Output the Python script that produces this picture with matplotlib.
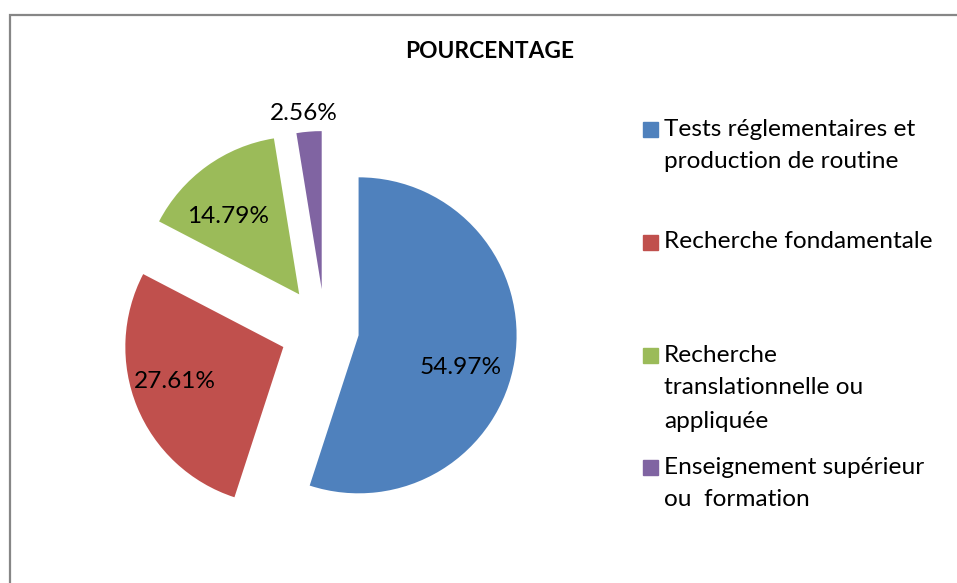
import matplotlib.pyplot as plt
from matplotlib.patches import Rectangle
import numpy as np

plt.rcParams['font.family'] = ['Lato', 'DejaVu Sans']

# data
labels = ["Tests réglementaires et\nproduction de routine",
          "Recherche fondamentale",
          "Recherche\ntranslationnelle ou\nappliquée",
          "Enseignement supérieur\nou  formation"]
values = [54.97, 27.61, 14.79, 2.56]
colors = ['#4F81BD', '#C0504D', '#9BBB59', '#8064A2']
explode = [34, 45, 44, 41]          # offsets in pixels
legend_y = [129, 242, 355, 467]     # top line of each legend entry, pixels from top
# label placement per slice: (distance as fraction of radius, angle in degrees)
label_pos = [(0.68, -17.4), (0.72, -162.5), (0.67, 132.3), (1.12, 95.8)]

W, H = 957, 583
fig = plt.figure(figsize=(W / 100, H / 100), dpi=100)
ax = fig.add_axes([0, 0, 1, 1])

R = 158
wedges, texts, autotexts = ax.pie(
    values, explode=explode, colors=colors, startangle=90, counterclock=False,
    radius=R, center=(325, H - 330), autopct='%1.2f%%', pctdistance=0.69,
    textprops=dict(fontsize=17.6, color='black'))
ax.set_xlim(0, W)
ax.set_ylim(0, H)
ax.set_aspect('equal')
ax.axis('off')

# show the values as given (they don't sum to exactly 100), placed like Excel's best fit
for t, v, w, (d, a) in zip(autotexts, values, wedges, label_pos):
    t.set_text(f'{v:.2f}%')
    cx, cy = w.center
    th = np.deg2rad(a)
    t.set_position((cx + d * R * np.cos(th), cy + d * R * np.sin(th)))

def px(x, y):
    return x / W, 1 - y / H

fig.text(*px(490, 52), "POURCENTAGE", ha='center', va='center',
         fontsize=16.4, fontweight='bold')

# legend
for lab, col, y0 in zip(labels, colors, legend_y):
    fig.patches.append(Rectangle(px(643, y0 + 7.5), 15 / W, 15 / H, color=col,
                                 transform=fig.transFigure, figure=fig))
    for i, line in enumerate(lab.split('\n')):
        fig.text(*px(664, y0 + i * 33), line, ha='left', va='center', fontsize=17.6)

# chart area border
fig.patches.append(Rectangle(px(9.5, 600), 1.1, (600 - 14.5) / H, fill=False,
                             edgecolor='#868686', lw=1.6,
                             transform=fig.transFigure, figure=fig))

fig.savefig('out.png', dpi=100, facecolor='white')
